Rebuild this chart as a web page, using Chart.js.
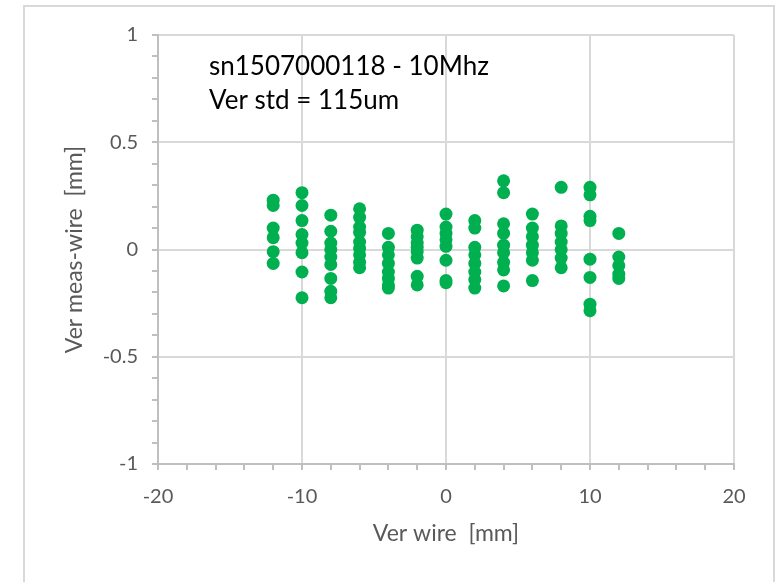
<!DOCTYPE html>
<html>
<head>
<meta charset="utf-8">
<script src="https://cdn.jsdelivr.net/npm/chart.js@4/dist/chart.umd.min.js"></script>
<style>
  html, body { margin: 0; padding: 0; background: #fff; overflow: hidden; }
  #wrap { position: relative; width: 782px; height: 582px; }
  #frame { position: absolute; left: 23px; top: 5px; width: 748px; height: 620px; border: 2px solid #d9d9d9; }
  canvas { position: absolute; left: 0; top: 0; }
</style>
</head>
<body>
<div id="wrap">
  <div id="frame"></div>
  <canvas id="scatter" width="782" height="582"></canvas>
</div>
<script>
// wire positions and measured offsets (mm) at each one
const wireX = [-12, -10, -8, -6, -4, -2, 0, 2, 4, 6, 8, 10, 12];
const measWire = [
  [0.23, 0.205, 0.10, 0.055, -0.01, -0.065],
  [0.265, 0.205, 0.135, 0.07, 0.03, -0.015, -0.105, -0.225],
  [0.16, 0.085, 0.03, 0.0, -0.035, -0.07, -0.135, -0.195, -0.225],
  [0.19, 0.15, 0.105, 0.08, 0.035, 0.005, -0.025, -0.06, -0.085],
  [0.075, 0.01, -0.025, -0.065, -0.105, -0.135, -0.165, -0.18],
  [0.09, 0.06, 0.03, 0.01, -0.01, -0.04, -0.125, -0.165],
  [0.165, 0.105, 0.075, 0.045, 0.015, -0.05, -0.145, -0.155],
  [0.135, 0.10, 0.01, -0.025, -0.065, -0.105, -0.14, -0.18],
  [0.32, 0.265, 0.12, 0.075, 0.02, -0.015, -0.06, -0.095, -0.17],
  [0.165, 0.10, 0.06, 0.02, -0.015, -0.05, -0.145],
  [0.29, 0.11, 0.075, 0.035, 0.0, -0.04, -0.085],
  [0.29, 0.255, 0.155, 0.135, -0.045, -0.13, -0.255, -0.285],
  [0.075, -0.035, -0.075, -0.115, -0.135]
];
const notes = ['sn1507000118 - 10Mhz', 'Ver std = 115um'];

const points = [];
wireX.forEach((x, i) => measWire[i].forEach(y => points.push({ x: x, y: y })));

const FONT = 'Lato, "Open Sans", sans-serif';
const isMajor = (v, step) => Math.abs(v / step - Math.round(v / step)) < 1e-6;

// text box in the upper left of the plot
const notePlugin = {
  id: 'notes',
  afterDraw(chart) {
    const c = chart.ctx;
    c.save();
    c.fillStyle = '#000';
    c.font = '26px ' + FONT;
    c.textBaseline = 'middle';
    c.fillText(notes[0], 209, 67);
    c.fillText(notes[1], 209, 101);
    c.restore();
  }
};

new Chart(document.getElementById('scatter'), {
  type: 'scatter',
  data: {
    datasets: [{
      data: points,
      backgroundColor: '#00b050',
      borderWidth: 0,
      pointRadius: 6.5,
      pointHoverRadius: 6.5
    }]
  },
  options: {
    responsive: false,
    animation: false,
    events: [],
    layout: { padding: { left: 0, top: 35, right: 48, bottom: 18 } },
    plugins: { legend: { display: false }, tooltip: { enabled: false } },
    scales: {
      x: {
        min: -20, max: 20,
        afterFit: s => { s.height = 100; },
        border: { color: '#bfbfbf', width: 2 },
        grid: {
          color: ctx => isMajor(ctx.tick.value, 10) ? '#d9d9d9' : 'rgba(0,0,0,0)',
          lineWidth: 2,
          tickColor: '#bfbfbf',
          tickLength: 6
        },
        ticks: {
          stepSize: 2,
          autoSkip: false,
          maxRotation: 0,
          padding: 15,
          color: '#595959',
          font: { family: FONT, size: 20 },
          callback: v => isMajor(v, 10) ? v : ''
        },
        title: {
          display: true,
          text: 'Ver wire  [mm]',
          color: '#595959',
          font: { family: FONT, size: 23 },
          padding: { top: 0, bottom: 17 }
        }
      },
      y: {
        min: -1, max: 1,
        afterFit: s => { s.width = 158; },
        border: { color: '#bfbfbf', width: 2 },
        grid: {
          color: ctx => isMajor(ctx.tick.value, 0.5) ? '#d9d9d9' : 'rgba(0,0,0,0)',
          lineWidth: 2,
          tickColor: '#bfbfbf',
          tickLength: 6
        },
        ticks: {
          stepSize: 0.1,
          autoSkip: false,
          padding: 14,
          color: '#595959',
          font: { family: FONT, size: 20 },
          callback: v => isMajor(v, 0.5) ? String(Math.round(v * 10) / 10) : ''
        },
        title: {
          display: true,
          text: 'Ver meas-wire  [mm]',
          color: '#595959',
          font: { family: FONT, size: 23 },
          padding: { top: 61, bottom: 0 }
        }
      }
    }
  },
  plugins: [notePlugin]
});
</script>
</body>
</html>
